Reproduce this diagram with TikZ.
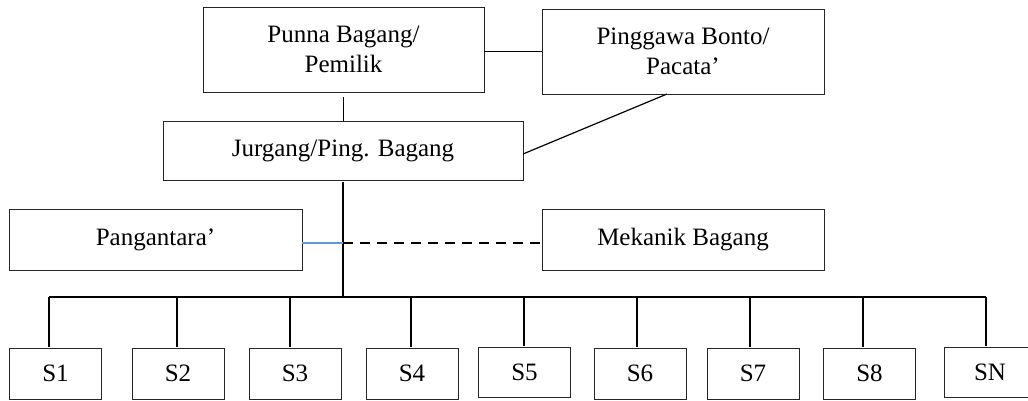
\documentclass[tikz,border=0pt]{standalone}
\usepackage{fontspec}
\setmainfont{Liberation Serif}
\begin{document}
\begin{tikzpicture}[x=1pt,y=-1pt,
  box/.style={draw=black!85, line width=1pt, inner sep=0pt, outer sep=0pt, align=center,
    font=\fontsize{25}{29.5}\selectfont},
  sbox/.style={box, minimum width=92pt, minimum height=51pt},
  conn/.style={line width=1.2pt},
  busline/.style={line width=2pt},
  blueline/.style={draw={rgb,255:red,91;green,155;blue,213}, line width=1.2pt},
  dashline/.style={line width=1.5pt, dash pattern=on 10pt off 7pt}]
\useasboundingbox (0,0) rectangle (1028,400);
% top boxes
\node[box, minimum width=281pt, minimum height=85pt] (punna) at (343.5,49.5) {Punna Bagang/\\Pemilik};
\node[box, minimum width=282pt, minimum height=85pt] (pinggawa) at (683,51.5) {Pinggawa Bonto/\\Pacata’};
\node[box, minimum width=360pt, minimum height=59pt] (jurgang) at (343,150.5) {Jurgang/Ping. Bagang};
\node[box, minimum width=293pt, minimum height=61pt] (pangantara) at (155.5,239.5) {Pangantara’};
\node[box, minimum width=282pt, minimum height=61pt] (mekanik) at (683,239.5) {Mekanik Bagang};
% staff boxes
\node[sbox] (s1) at (55.5,373.5) {S1};
\node[sbox] (s2) at (178,373.5) {S2};
\node[sbox] (s3) at (295,373.5) {S3};
\node[sbox] (s4) at (412,373.5) {S4};
\node[sbox, minimum height=50pt] (s5) at (524.5,372) {S5};
\node[sbox] (s6) at (640,373.5) {S6};
\node[sbox] (s7) at (753,373.5) {S7};
\node[sbox] (s8) at (869.5,373.5) {S8};
\node[sbox, minimum height=50pt] (sn) at (990,372) {SN};
% connectors at top
\draw[conn] (punna.east |- pinggawa.west) -- (pinggawa.west);
\draw[conn] ([yshift=-5pt]punna.south) -- (punna.south |- jurgang.north);
\draw[conn] ([xshift=-16pt]pinggawa.south) -- ([yshift=-3.5pt]jurgang.east);
% bus
\coordinate (busL) at (49,297);
\coordinate (busR) at (986,297);
\draw[conn] ([yshift=-1.5pt]jurgang.south) -- (jurgang.south |- busL);
\draw[busline] (busL) -- (busR);
% side connectors
\coordinate (jn) at ([yshift=-3.5pt]pangantara.east -| jurgang.south);
\draw[blueline] ([yshift=-3.5pt]pangantara.east) -- (jn);
\draw[dashline] (jn) -- (jn -| mekanik.west);
% stubs
\foreach \n/\dx in {s1/-6.5, s2/-1, s3/-5, s4/-1, s5/-0.5, s6/-3, s7/-3, s8/-6.5, sn/-4}{
  \draw[conn] ([xshift=\dx pt, yshift=1pt]\n.north) -- ([xshift=\dx pt]\n.north |- busL);
}
\end{tikzpicture}
\end{document}
